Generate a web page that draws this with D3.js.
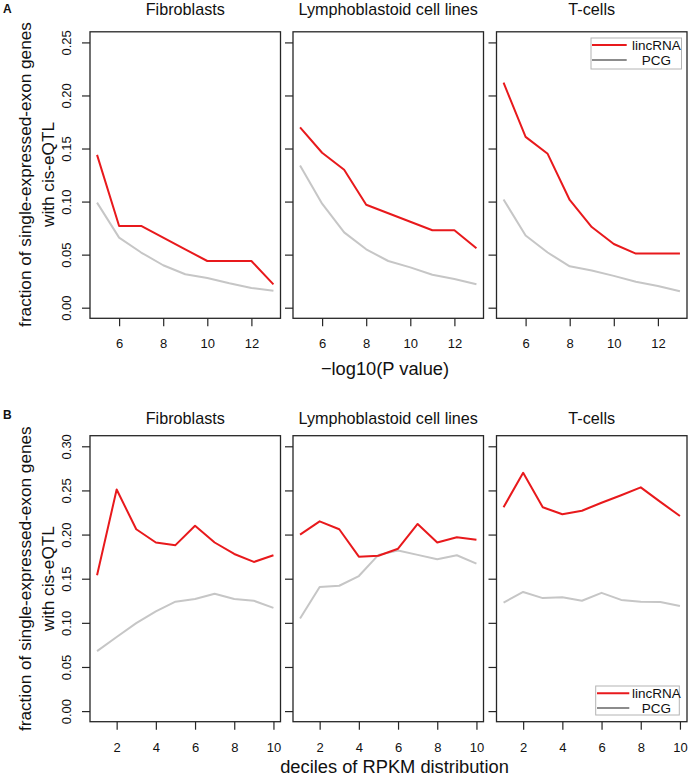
<!DOCTYPE html>
<html>
<head>
<meta charset="utf-8">
<script src="https://cdn.jsdelivr.net/npm/d3@7"></script>
<style>
  html, body { margin: 0; padding: 0; background: #fff; }
  svg { display: block; font-family: "Liberation Sans", Arial, Helvetica, sans-serif; }
</style>
</head>
<body>
<svg id="chart" width="688" height="775"></svg>
<script>
// ---------------- DATA ----------------
const cellTypes = ["Fibroblasts", "Lymphoblastoid cell lines", "T-cells"];
const seriesNames = ["lincRNA", "PCG"];

// Panel A: x = -log10(P value)
const pvalX = [5, 6, 7, 8, 9, 10, 11, 12, 13];
const pvalTicks = [6, 8, 10, 12];
const fracTicksA = [0, 0.05, 0.10, 0.15, 0.20, 0.25];

const lincA_fib  = [0.144, 0.077, 0.077, 0.066, 0.055, 0.044, 0.044, 0.044, 0.022];
const pcgA_fib   = [0.099, 0.066, 0.052, 0.040, 0.0315, 0.028, 0.023, 0.0186, 0.016];
const lincA_lcl  = [0.170, 0.146, 0.130, 0.097, 0.089, 0.081, 0.073, 0.073, 0.056];
const pcgA_lcl   = [0.134, 0.098, 0.071, 0.055, 0.044, 0.038, 0.031, 0.027, 0.022];
const lincA_t    = [0.212, 0.161, 0.145, 0.1015, 0.076, 0.060, 0.051, 0.051, 0.051];
const pcgA_t     = [0.102, 0.068, 0.052, 0.039, 0.035, 0.030, 0.0245, 0.0205, 0.0155];

// Panel B: x = deciles of RPKM distribution
const decileX = [1, 2, 3, 4, 5, 6, 7, 8, 9, 10];
const decileTicks = [2, 4, 6, 8, 10];
const fracTicksB = [0, 0.05, 0.10, 0.15, 0.20, 0.25, 0.30];

const lincB_fib  = [0.154, 0.251, 0.206, 0.191, 0.188, 0.210, 0.191, 0.178, 0.169, 0.1765];
const pcgB_fib   = [0.068, 0.084, 0.0996, 0.113, 0.124, 0.127, 0.133, 0.127, 0.125, 0.117];
const lincB_lcl  = [0.200, 0.215, 0.206, 0.175, 0.176, 0.184, 0.212, 0.191, 0.197, 0.194];
const pcgB_lcl   = [0.105, 0.1405, 0.142, 0.153, 0.177, 0.182, 0.177, 0.172, 0.1766, 0.167];
const lincB_t    = [0.231, 0.270, 0.231, 0.223, 0.227, 0.236, 0.2445, 0.2535, 0.237, 0.221];
const pcgB_t     = [0.123, 0.135, 0.128, 0.129, 0.125, 0.134, 0.126, 0.124, 0.1235, 0.119];

// ---------------- LAYOUT / STYLE ----------------
const svg = d3.select("#chart");
const RED = "#e8191c", GRAY = "#c6c6c6", LEGEND_GRAY = "#8c8c8c", INK = "#262626";
const panelLefts = [90, 293, 496.5];
const panelW = 190.5;

const figA = {
  label: "A", labelY: 13.3, titleY: 14.6,
  top: 31.8, bottom: 318.3,
  yDomain: [-0.01, 0.26], yTicks: fracTicksA,
  x: pvalX, xDomain: [4.68, 13.32], xTicks: pvalTicks,
  tickLabelY: 348, xTitle: "\u2212log10(P value)", xTitleX: 385, xTitleY: 375,
  yTitleCenter: 174.5,
  series: [[lincA_fib, pcgA_fib], [lincA_lcl, pcgA_lcl], [lincA_t, pcgA_t]],
  legend: { x0: 591, x1: 681.5, y0: 38, y1: 69, rows: [45, 60], lineX: [592, 626.7], textX: 656.3 }
};
const figB = {
  label: "B", labelY: 419.3, titleY: 424,
  top: 435.7, bottom: 721.7,
  yDomain: [-0.012, 0.312], yTicks: fracTicksB,
  x: decileX, xDomain: [0.64, 10.36], xTicks: decileTicks,
  tickLabelY: 751.7, xTitle: "deciles of RPKM distribution", xTitleX: 394.5, xTitleY: 772.5,
  yTitleCenter: 578.7,
  series: [[lincB_fib, pcgB_fib], [lincB_lcl, pcgB_lcl], [lincB_t, pcgB_t]],
  legend: { x0: 595.7, x1: 679.3, y0: 686, y1: 715, rows: [693.3, 708], lineX: [597, 629.3], textX: 656.3 }
};

function drawFigure(f) {
  const g = svg.append("g");
  const y = d3.scaleLinear().domain(f.yDomain).range([f.bottom, f.top]);

  // panel letter
  g.append("text").attr("x", 3).attr("y", f.labelY)
    .attr("font-size", 12).attr("font-weight", "bold").attr("fill", "#111").text(f.label);

  cellTypes.forEach((name, i) => {
    const left = panelLefts[i], right = left + panelW;
    const x = d3.scaleLinear().domain(f.xDomain).range([left, right]);

    // title
    g.append("text").attr("x", (left + right) / 2).attr("y", f.titleY)
      .attr("text-anchor", "middle").attr("font-size", 16.2).attr("fill", "#111").text(name);

    // x axis
    const xAxis = d3.axisBottom(x).tickValues(f.xTicks).tickSize(8).tickPadding(0).tickFormat(d3.format("d"));
    const xg = g.append("g").attr("transform", `translate(0,${f.bottom})`).call(xAxis);
    xg.select(".domain").remove();
    xg.selectAll(".tick line").attr("stroke", INK).attr("stroke-width", 1.2);
    xg.selectAll(".tick text").attr("y", f.tickLabelY - f.bottom).attr("dy", null)
      .attr("font-size", 13).attr("fill", "#111").attr("font-family", null);

    // y axis ticks
    const yAxis = d3.axisLeft(y).tickValues(f.yTicks).tickSize(8).tickFormat(i === 0 ? d3.format(".2f") : () => "");
    const yg = g.append("g").attr("transform", `translate(${left},0)`).call(yAxis);
    yg.select(".domain").remove();
    yg.selectAll(".tick line").attr("stroke", INK).attr("stroke-width", 1.2);
    yg.selectAll(".tick text")
      .attr("x", null).attr("dy", null)
      .attr("text-anchor", "middle").attr("font-size", 13).attr("fill", "#111").attr("font-family", null)
      .attr("transform", "translate(-19,0) rotate(-90)");

    // lines
    const line = d3.line().x((d, k) => x(f.x[k])).y(d => y(d));
    const [linc, pcg] = f.series[i];
    g.append("path").datum(pcg).attr("d", line).attr("fill", "none")
      .attr("stroke", GRAY).attr("stroke-width", 2).attr("stroke-linejoin", "round");
    g.append("path").datum(linc).attr("d", line).attr("fill", "none")
      .attr("stroke", RED).attr("stroke-width", 2).attr("stroke-linejoin", "round");

    // box
    g.append("rect").attr("x", left).attr("y", f.top).attr("width", panelW).attr("height", f.bottom - f.top)
      .attr("fill", "none").attr("stroke", INK).attr("stroke-width", 1.3);
  });

  // y title (two lines)
  const yt = g.append("g").attr("transform", `translate(0,${f.yTitleCenter})`);
  yt.append("text").attr("transform", "translate(30.5,0) rotate(-90)").attr("text-anchor", "middle")
    .attr("font-size", 17.2).attr("fill", "#111").text("fraction of single-expressed-exon genes");
  yt.append("text").attr("transform", "translate(54,0) rotate(-90)").attr("text-anchor", "middle")
    .attr("font-size", 17.2).attr("fill", "#111").text("with cis-eQTL");

  // x title
  g.append("text").attr("x", f.xTitleX).attr("y", f.xTitleY).attr("text-anchor", "middle")
    .attr("font-size", 18.3).attr("fill", "#111").text(f.xTitle);

  // legend
  const L = f.legend;
  g.append("rect").attr("x", L.x0).attr("y", L.y0).attr("width", L.x1 - L.x0).attr("height", L.y1 - L.y0)
    .attr("fill", "#fff").attr("stroke", "#b4b4b4").attr("stroke-width", 1);
  const legColors = [RED, LEGEND_GRAY];
  seriesNames.forEach((s, k) => {
    g.append("line").attr("x1", L.lineX[0]).attr("x2", L.lineX[1]).attr("y1", L.rows[k]).attr("y2", L.rows[k])
      .attr("stroke", legColors[k]).attr("stroke-width", 2);
    g.append("text").attr("x", L.textX).attr("y", L.rows[k] + 4.7).attr("text-anchor", "middle")
      .attr("font-size", 13.5).attr("fill", "#111").text(s);
  });
}

drawFigure(figA);
drawFigure(figB);
</script>
</body>
</html>
